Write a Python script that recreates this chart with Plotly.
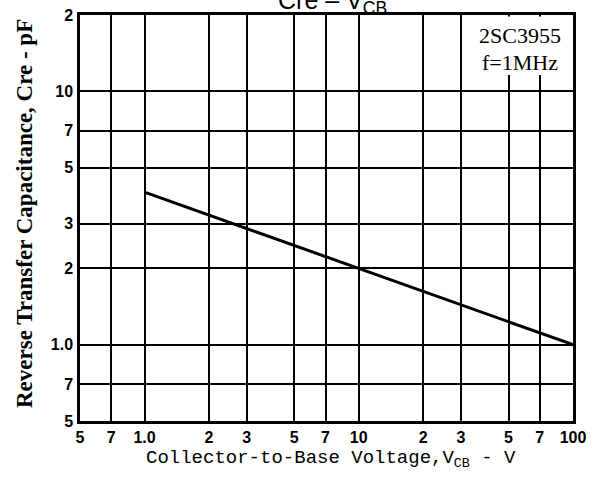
import plotly.graph_objects as go
import math

# Data
vcb = [1.0, 10.0, 100.0]
cre = [4.0, 2.0, 1.0]

x_tickvals = [0.5, 0.7, 1.0, 2, 3, 5, 7, 10, 20, 30, 50, 70, 100]
x_ticktext = ["5", "7", "1.0", "2", "3", "5", "7", "10", "2", "3", "5", "7", "100"]
y_tickvals = [0.5, 0.7, 1.0, 2, 3, 5, 7, 10, 20]
y_ticktext = ["5", "7", "1.0", "2", "3", "5", "7", "10", "2"]

x_range = [0.5, 100]
y_range = [0.5, 20]

W, H = 596, 485
ML, MR, MT, MB = 80, 23, 15, 64
PW, PH = W - ML - MR, H - MT - MB

fig = go.Figure()
fig.add_trace(go.Scatter(x=vcb, y=cre, mode="lines",
                         line=dict(color="black", width=3), showlegend=False))

def xpaper(v):
    return (math.log10(v) - math.log10(x_range[0])) / (math.log10(x_range[1]) - math.log10(x_range[0]))

# white label box in the upper right corner (covers grid lines)
box_x0 = xpaper(30) + 1.2 / PW
fig.add_shape(type="rect", xref="paper", yref="paper",
              x0=box_x0, x1=1 - 1.5 / PW, y0=1 - 60 / PH, y1=1 - 1.5 / PH,
              fillcolor="white", line=dict(width=0), layer="above")

box_cx = (xpaper(30) + 1) / 2 + 0.006
fig.add_annotation(xref="paper", yref="paper", x=box_cx, xanchor="center", y=1 - 20 / PH,
                   yanchor="middle", text="2SC3955", showarrow=False,
                   font=dict(family="Liberation Serif", size=22, color="black"))
fig.add_annotation(xref="paper", yref="paper", x=box_cx, xanchor="center", y=1 - 47 / PH,
                   yanchor="middle", text="f=1MHz", showarrow=False,
                   font=dict(family="Liberation Serif", size=22, color="black"))

# cut-off title at the very top
fig.add_annotation(xref="paper", yref="paper", x=(332 - ML) / PW, xanchor="center",
                   y=1, yanchor="bottom", yshift=-5,
                   text="Cre – V<sub>CB</sub>", showarrow=False,
                   font=dict(family="Liberation Sans", size=25, color="black"))

# y axis title
fig.add_annotation(xref="paper", yref="paper", x=(24 - ML) / PW, xanchor="center",
                   y=(H - MB - 214) / PH, yanchor="middle", textangle=-90,
                   text="Reverse Transfer Capacitance, Cre - pF", showarrow=False,
                   font=dict(family="Liberation Serif", size=23, color="black", weight="bold"))

# x axis title
fig.add_annotation(xref="paper", yref="paper", x=(331 - ML) / PW, xanchor="center",
                   y=-(459 - (H - MB)) / PH, yanchor="middle",
                   text="Collector-to-Base Voltage,V<sub>CB</sub> - V", showarrow=False,
                   font=dict(family="Liberation Mono", size=19, color="black"))

axis_common = dict(type="log", showgrid=True, gridcolor="black", gridwidth=1.6,
                   showline=True, linecolor="black", linewidth=2.5, mirror=True,
                   ticks="", tickmode="array", zeroline=False, automargin=False,
                   tickfont=dict(family="Liberation Sans", size=16, color="black", weight="bold"))

fig.update_xaxes(range=[math.log10(x_range[0]), math.log10(x_range[1])],
                 tickvals=x_tickvals, ticktext=x_ticktext, ticklabelstandoff=0,
                 **axis_common)
fig.update_yaxes(range=[math.log10(y_range[0]), math.log10(y_range[1])],
                 tickvals=y_tickvals, ticktext=y_ticktext, ticklabelstandoff=1,
                 **axis_common)

fig.update_layout(width=W, height=H,
                  margin=dict(l=ML, r=MR, t=MT, b=MB, autoexpand=False),
                  plot_bgcolor="white", paper_bgcolor="white")

fig.write_html("out.html", config={"displayModeBar": False},
               post_script="document.body.style.margin='0';")
